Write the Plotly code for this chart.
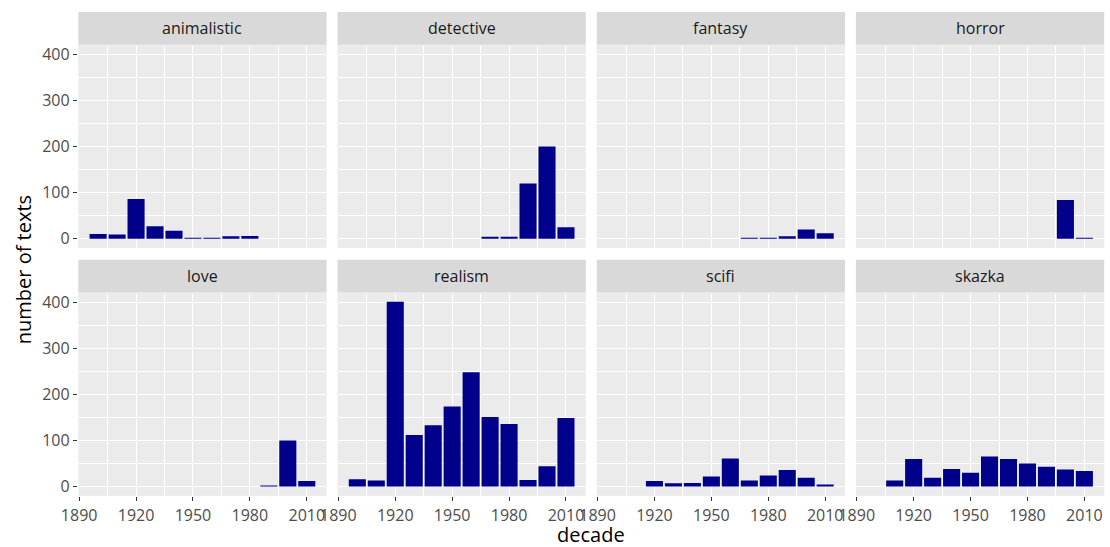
import plotly.graph_objects as go

# Texts per decade, one list per genre (None = no texts in that decade)
decades = [1900, 1910, 1920, 1930, 1940, 1950, 1960, 1970, 1980, 1990, 2000, 2010]

animalistic = [10, 9, 86, 27, 17, 2, 2, 5, 6, None, None, None]
detective = [None, None, None, None, None, None, None, 3, 3, 120, 200, 25]
fantasy = [None, None, None, None, None, None, None, 2, 2, 5, 20, 12]
horror = [None, None, None, None, None, None, None, None, None, None, 84, 1]
love = [None, None, None, None, None, None, None, None, None, 1, 100, 12]
realism = [16, 13, 401, 112, 133, 174, 248, 151, 136, 14, 44, 149]
scifi = [None, None, 12, 7, 8, 22, 61, 13, 24, 36, 19, 3]
skazka = [None, 13, 60, 19, 38, 30, 65, 60, 50, 43, 37, 34]

genres = ["animalistic", "detective", "fantasy", "horror",
          "love", "realism", "scifi", "skazka"]
series = [animalistic, detective, fantasy, horror, love, realism, scifi, skazka]

x_ticks = [1890, 1920, 1950, 1980, 2010]
y_ticks = [0, 100, 200, 300, 400]

W, H = 1110, 547
FONT = "Open Sans"
TICK_SIZE = 16

# panel geometry in pixels
col_left = [78.3, 337.5, 596.7, 855.9]
panel_w = 248.3
row_top = [44.7, 292.6]
panel_h = 203.2
strip_h = 32.8

x_range = [1889.55, 2020.45]
y_range = [-20.05, 421.05]

fig = go.Figure()
layout = dict(
    width=W, height=H,
    margin=dict(l=0, r=0, t=0, b=0, autoexpand=False),
    paper_bgcolor="white",
    plot_bgcolor="#EBEBEB",
    showlegend=False,
    font=dict(family=FONT, color="#4D4D4D", size=TICK_SIZE),
    shapes=[], annotations=[],
)

for i, (name, vals) in enumerate(zip(genres, series)):
    r, c = divmod(i, 4)
    k = i + 1
    suffix = "" if k == 1 else str(k)
    fig.add_trace(go.Bar(
        x=decades, y=vals, width=9,
        marker=dict(color="#00008B", line=dict(width=0)),
        xaxis="x" + suffix, yaxis="y" + suffix,
    ))

    x0 = col_left[c] / W
    x1 = (col_left[c] + panel_w) / W
    ytop = row_top[r]
    y1 = 1 - ytop / H
    y0 = 1 - (ytop + panel_h) / H

    bottom = r == 1
    left = c == 0
    layout["xaxis" + suffix] = dict(
        domain=[x0, x1], range=x_range, anchor="y" + suffix, automargin=False,
        tickmode="array", tickvals=x_ticks, ticktext=[str(v) for v in x_ticks],
        showticklabels=bottom, ticks="outside" if bottom else "",
        ticklen=4.5, tickwidth=1.1, tickcolor="#333333",
        tickfont=dict(family=FONT, size=TICK_SIZE, color="#4D4D4D"),
        showgrid=True, gridcolor="white", gridwidth=1.4, zeroline=False,
        minor=dict(tickvals=[1905, 1935, 1965, 1995, 2025], showgrid=True,
                   gridcolor="white", gridwidth=0.7),
        fixedrange=True,
    )
    layout["yaxis" + suffix] = dict(
        domain=[y0, y1], range=y_range, anchor="x" + suffix, automargin=False,
        tickmode="array", tickvals=y_ticks, ticktext=[str(v) for v in y_ticks],
        showticklabels=left, ticks="outside" if left else "",
        ticklen=4.5, tickwidth=1.1, tickcolor="#333333",
        tickfont=dict(family=FONT, size=TICK_SIZE, color="#4D4D4D"),
        showgrid=True, gridcolor="white", gridwidth=1.4, zeroline=False,
        minor=dict(tickvals=[50, 150, 250, 350], showgrid=True,
                   gridcolor="white", gridwidth=0.7),
        fixedrange=True,
    )

    # facet strip
    s_top = ytop - strip_h
    layout["shapes"].append(dict(
        type="rect", xref="paper", yref="paper", layer="below",
        x0=x0, x1=x1, y0=1 - ytop / H, y1=1 - s_top / H,
        fillcolor="#D9D9D9", line=dict(width=0),
    ))
    layout["annotations"].append(dict(
        xref="paper", yref="paper", x=(x0 + x1) / 2,
        y=1 - (s_top + strip_h / 2) / H,
        text=name, showarrow=False, xanchor="center", yanchor="middle",
        font=dict(family=FONT, size=16, color="#1A1A1A"),
    ))

# axis titles
layout["annotations"].append(dict(
    xref="paper", yref="paper",
    x=(col_left[0] + col_left[3] + panel_w) / 2 / W, y=1 - 534 / H,
    text="decade", showarrow=False, xanchor="center", yanchor="middle",
    font=dict(family=FONT, size=20, color="black"),
))
layout["annotations"].append(dict(
    xref="paper", yref="paper",
    x=23 / W, y=1 - (row_top[0] + row_top[1] + panel_h) / 2 / H,
    text="number of texts", showarrow=False, textangle=-90,
    xanchor="center", yanchor="middle",
    font=dict(family=FONT, size=20, color="black"),
))

fig.update_layout(**layout)
fig.write_html("out.html")
